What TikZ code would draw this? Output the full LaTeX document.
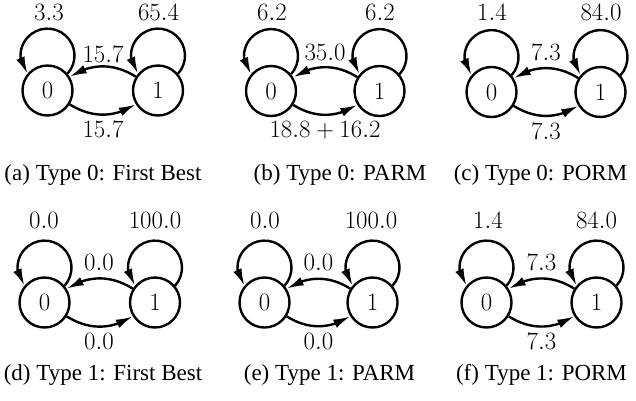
\documentclass[tikz,border=0pt]{standalone}
\usepackage{fontspec}
\newfontfamily\capfont{Liberation Serif}
\usetikzlibrary{arrows.meta,bending}
\begin{document}
\begin{tikzpicture}[x=1pt,y=1pt,
  st/.style={circle,draw,line width=2.4pt,minimum size=50pt,inner sep=0pt,font=\fontsize{24.4}{28}\selectfont},
  arr/.style={line width=2.4pt,-{Latex[length=17pt,width=9pt,flex]}},
  lab/.style={font=\fontsize{24.4}{28}\selectfont,inner sep=0pt},
  captext/.style={font=\capfont\fontsize{23}{27}\selectfont,anchor=base,inner sep=0pt},
  lp/.style={arr},
  bd/.style={bend right=32}]
\useasboundingbox (0,0) rectangle (636,-400);
% ---------- (a)
\node[st] (a0) at (47.5,-90.5) {$0$};
\node[st] (a1) at (158,-90.5) {$1$};
\draw[lp] (a0.40) arc[start angle=-42,end angle=222,radius=27];
\draw[lp] (a1.40) arc[start angle=-42,end angle=222,radius=27];
\draw[arr] (a1) to[bd] (a0);
\draw[arr] (a0) to[bd] (a1);
\node[lab] (a0l) at (49,-12.5) {$3.3$};
\node[lab] (a1l) at (158.5,-12.5) {$65.4$};
\node[lab] (atl) at (103,-54) {$15.7$};
\node[lab] (abl) at (103,-129) {$15.7$};
\node[captext] (acap) at (103,-180) {(a) Type 0: First Best};
% ---------- (b)
\node[st] (b0) at (271,-91) {$0$};
\node[st] (b1) at (379.5,-91) {$1$};
\draw[lp] (b0.40) arc[start angle=-42,end angle=222,radius=27];
\draw[lp] (b1.40) arc[start angle=-42,end angle=222,radius=27];
\draw[arr] (b1) to[bd] (b0);
\draw[arr] (b0) to[bd] (b1);
\node[lab] (b0l) at (272,-12.5) {$6.2$};
\node[lab] (b1l) at (380,-12.5) {$6.2$};
\node[lab] (btl) at (325,-52.5) {$35.0$};
\node[lab] (bbl) at (325,-130.5) {$18.8+16.2$};
\node[captext] (bcap) at (340,-180) {(b) Type 0: PARM};
% ---------- (c)
\node[st] (c0) at (491.5,-92) {$0$};
\node[st] (c1) at (600.5,-92) {$1$};
\draw[lp] (c0.40) arc[start angle=-42,end angle=222,radius=27];
\draw[lp] (c1.40) arc[start angle=-42,end angle=222,radius=27];
\draw[arr] (c1) to[bd] (c0);
\draw[arr] (c0) to[bd] (c1);
\node[lab] (c0l) at (492,-12.5) {$1.4$};
\node[lab] (c1l) at (601,-12.5) {$84.0$};
\node[lab] (ctl) at (546,-52.5) {$7.3$};
\node[lab] (cbl) at (546,-131) {$7.3$};
\node[captext] (ccap) at (540.5,-180) {(c) Type 0: PORM};
% ---------- (d)
\node[st] (d0) at (44.5,-302.5) {$0$};
\node[st] (d1) at (155,-302.5) {$1$};
\draw[lp] (d0.40) arc[start angle=-42,end angle=222,radius=27];
\draw[lp] (d1.40) arc[start angle=-42,end angle=222,radius=27];
\draw[arr] (d1) to[bd] (d0);
\draw[arr] (d0) to[bd] (d1);
\node[lab] (d0l) at (44,-220.5) {$0.0$};
\node[lab] (d1l) at (155,-220.5) {$100.0$};
\node[lab] (dtl) at (99,-262) {$0.0$};
\node[lab] (dbl) at (99,-341) {$0.0$};
\node[captext] (dcap) at (103,-380) {(d) Type 1: First Best};
% ---------- (e)
\node[st] (e0) at (264.5,-302.5) {$0$};
\node[st] (e1) at (372.5,-302.5) {$1$};
\draw[lp] (e0.40) arc[start angle=-42,end angle=222,radius=27];
\draw[lp] (e1.40) arc[start angle=-42,end angle=222,radius=27];
\draw[arr] (e1) to[bd] (e0);
\draw[arr] (e0) to[bd] (e1);
\node[lab] (e0l) at (265,-220.5) {$0.0$};
\node[lab] (e1l) at (371,-220.5) {$100.0$};
\node[lab] (etl) at (318.5,-262) {$0.0$};
\node[lab] (ebl) at (318.5,-341) {$0.0$};
\node[captext] (ecap) at (329.5,-380) {(e) Type 1: PARM};
% ---------- (f)
\node[st] (f0) at (486.5,-302.5) {$0$};
\node[st] (f1) at (596.5,-302.5) {$1$};
\draw[lp] (f0.40) arc[start angle=-42,end angle=222,radius=27];
\draw[lp] (f1.40) arc[start angle=-42,end angle=222,radius=27];
\draw[arr] (f1) to[bd] (f0);
\draw[arr] (f0) to[bd] (f1);
\node[lab] (f0l) at (488,-220.5) {$1.4$};
\node[lab] (f1l) at (596.5,-220.5) {$84.0$};
\node[lab] (ftl) at (541.5,-262) {$7.3$};
\node[lab] (fbl) at (541.5,-341) {$7.3$};
\node[captext] (fcap) at (541.5,-380) {(f) Type 1: PORM};
\end{tikzpicture}
\end{document}
